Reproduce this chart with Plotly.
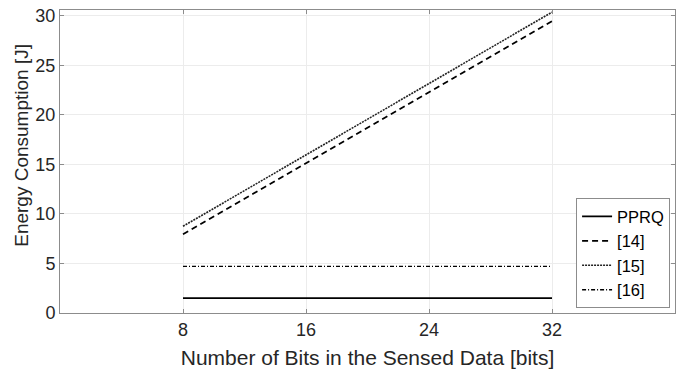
import plotly.graph_objects as go

bits = [8, 16, 24, 32]
pprq = [1.5, 1.5, 1.5, 1.5]
ref14 = [7.95, 15.1, 22.3, 29.45]
ref15 = [8.75, 15.95, 23.15, 30.35]
ref16 = [4.7, 4.7, 4.7, 4.7]
names = ["PPRQ", "[14]", "[15]", "[16]"]
x_ticks = [8, 16, 24, 32]
y_ticks = [0, 5, 10, 15, 20, 25, 30]

FONT = "Liberation Sans, Arial, sans-serif"
TXT = "#262626"

fig = go.Figure()
styles = [
    dict(color="black", width=1.8, dash="solid"),
    dict(color="black", width=1.8, dash="6px,4px"),
    dict(color="#222222", width=1.6, dash="2px,1px"),
    dict(color="black", width=1.4, dash="4px,2px,1px,2px"),
]
for name, ys, st in zip(names, [pprq, ref14, ref15, ref16], styles):
    fig.add_trace(go.Scatter(x=bits, y=ys, mode="lines", name=name, line=st))

axis_common = dict(
    showline=True, linecolor="#8c8c8c", linewidth=1, mirror="allticks",
    ticks="inside", ticklen=4, tickcolor="#8c8c8c",
    showgrid=True, gridcolor="#ececec", gridwidth=1, zeroline=False,
    tickfont=dict(family=FONT, size=18, color=TXT),
)

fig.update_layout(
    width=680, height=369,
    margin=dict(l=60, r=4, t=10, b=54),
    paper_bgcolor="white", plot_bgcolor="white",
    font=dict(family=FONT, color=TXT),
    xaxis=dict(range=[0, 40], tickvals=x_ticks, ticktext=[str(v) for v in x_ticks],
               title=dict(text="Number of Bits in the Sensed Data [bits]",
                          font=dict(family=FONT, size=21, color=TXT), standoff=11),
               **axis_common),
    yaxis=dict(range=[0, 30.57], tickvals=y_ticks, ticktext=[str(v) for v in y_ticks],
               **axis_common),
    showlegend=True,
    legend=dict(x=0.992, y=0.016, xanchor="right", yanchor="bottom",
                bgcolor="white", bordercolor="#8c8c8c", borderwidth=1,
                font=dict(family=FONT, size=16.5, color="black"),
                itemwidth=30, tracegroupgap=0),
    annotations=[dict(text="Energy Consumption [J]", textangle=-90,
                      xref="paper", yref="paper", x=-0.064, y=0.554,
                      xanchor="center", yanchor="middle", showarrow=False,
                      font=dict(family=FONT, size=19, color=TXT))],
)

fig.write_html("out.html")
